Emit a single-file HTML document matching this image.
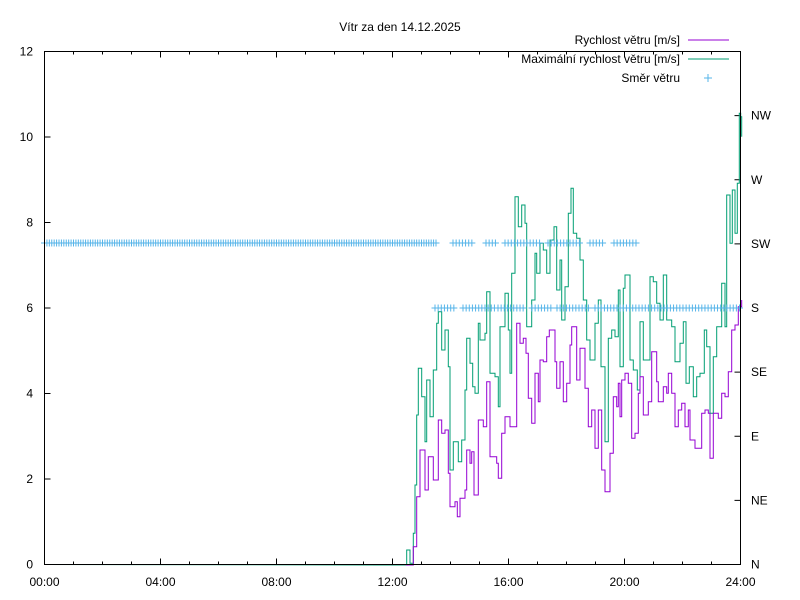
<!DOCTYPE html>
<html><head><meta charset="utf-8"><style>
html,body{margin:0;padding:0;background:#fff}
svg{display:block;font-family:"Liberation Sans",Arial,sans-serif;font-size:12px}
</style></head><body>
<svg id="s" width="800" height="600" xmlns="http://www.w3.org/2000/svg">
<rect width="800" height="600" fill="#fff"/>
<text x="400" y="31" text-anchor="middle">Vítr za den 14.12.2025</text>
<g id="ax" stroke="#000" stroke-width="1" fill="none"></g>
<g id="lbl"></g>
<polyline id="pg" fill="none" stroke="#009e73" stroke-width="1"/>
<polyline id="pp" fill="none" stroke="#9400d3" stroke-width="1"/>
<g id="dir" stroke="#56b4e9" stroke-width="1"></g>
<rect x="44.5" y="51.5" width="696" height="513" fill="none" stroke="#000"/>
<g text-anchor="end">
<text x="680" y="44">Rychlost větru [m/s]</text>
<text x="680" y="63">Maximální rychlost větru [m/s]</text>
<text x="680" y="82">Směr větru</text>
</g>
<line x1="688" y1="40" x2="729" y2="40" stroke="#9400d3"/>
<line x1="688" y1="59" x2="729" y2="59" stroke="#009e73"/>
<g stroke="#56b4e9"><line x1="704" y1="78" x2="712" y2="78"/><line x1="708" y1="74" x2="708" y2="82"/></g>
</svg>
<script>
var NS="http://www.w3.org/2000/svg";
function el(p,t,a,txt){var e=document.createElementNS(NS,t);for(var k in a)e.setAttribute(k,a[k]);if(txt!=null)e.textContent=txt;document.getElementById(p).appendChild(e);}
var L=44.5,R=740.5,T=51.5,B=564.5;
for(var i=0;i<=6;i++){var y=B-i*(B-T)/6;el("ax","line",{x1:L,y1:y,x2:L+6,y2:y});el("lbl","text",{x:33,y:y+4,"text-anchor":"end"},String(i*2));}
var d=["N","NE","E","SE","S","SW","W","NW"];
for(var i=0;i<8;i++){var y=B-i*(B-T)/8;el("ax","line",{x1:R,y1:y,x2:R-6,y2:y});el("lbl","text",{x:751,y:y+4},d[i]);}
for(var h=0;h<=24;h++){var x=L+h*(R-L)/24;var len=h%4==0?6:3;el("ax","line",{x1:x,y1:B,x2:x,y2:B-len});el("ax","line",{x1:x,y1:T,x2:x,y2:T+len});
if(h%4==0)el("lbl","text",{x:x,y:586,"text-anchor":"middle"},(h<10?"0":"")+h+":00");}
var P=[20,1155,40,1100,50,950,60,810,75,930,85,830,100,900,115,720,125,760,135,750,145,880,150,980,165,965,172,1010,180,955,195,930,200,810,210,850,215,815,222,945,235,720,250,740,260,605,270,830,290,850,295,895,305,760,315,710,330,740,350,430,360,490,370,475,378,520,385,655,395,730,405,580,415,665,420,540,430,545,440,470,448,450,465,545,470,625,480,545,490,665,500,610,510,495,515,440,530,600,540,505,555,625,565,740,575,690,585,805,595,690,605,870,615,935,630,820,640,650,650,680,655,610,660,710,665,600,675,580,685,610,695,775,705,760,715,640,720,590,730,705,745,665,755,515,770,605,775,665,790,620,800,640,805,580,815,640,825,740,835,690,845,670,855,740,865,690,870,780,885,805,895,805,905,700,915,690,925,700,930,835,940,700,955,715,965,640,975,650,985,575,995,450,1005,435,1015,380,1025,360];
var G=[0,1155,15,1155,20,1110,30,1150,40,1060,45,915,50,705,55,565,65,650,75,785,80,600,90,710,100,570,110,430,115,395,125,510,135,450,145,560,150,870,160,785,175,845,185,780,195,630,200,475,210,550,218,620,225,640,235,430,240,480,255,460,260,335,270,580,285,590,295,680,300,440,315,340,325,450,330,580,335,280,345,50,355,140,365,75,375,130,380,440,395,360,405,220,410,280,420,190,430,210,440,280,450,180,462,140,470,330,480,240,485,420,495,320,505,100,513,25,520,160,530,175,540,240,550,360,560,480,570,540,585,430,595,360,603,560,615,785,625,475,635,450,645,470,655,330,660,560,670,325,675,285,690,540,700,570,712,630,720,425,730,540,740,540,750,290,760,305,770,370,780,420,790,285,800,420,815,440,825,545,840,490,850,425,858,610,868,560,880,650,890,590,900,580,913,450,920,500,930,700,940,530,950,440,965,310,975,440,980,45,990,190,997,30,1005,160,1012,10,1018,-200,1022,-190,1025,-130];
function pts(a,pre){var s=pre,py=null;for(var i=0;i<a.length;i+=2){var x=(400+a[i]/3).toFixed(1),y=(180+a[i+1]/3).toFixed(1);if(py!==null)s+=x+","+py+" ";s+=x+","+y+" ";py=y;}return s;}
document.getElementById("pp").setAttribute("points",pts(P,"44.5,564.5 405,564.5 "));
document.getElementById("pg").setAttribute("points",pts(G,"44.5,564.5 "));
function plus(x,y){el("dir","line",{x1:x-3.5,y1:y,x2:x+3.5,y2:y});el("dir","line",{x1:x,y1:y-3.5,x2:x,y2:y+3.5});}
var st=696/288;
for(var x=L;x<=437;x+=st)plus(x,243);
var sw=[[452,458],[453,473],[486,498],[505,540],[548,582],[590,605],[614,637]];
var ss=[[435,455],[463,495],[498,525],[532,552],[557,590],[595,741]];
function fill(r,y){r.forEach(function(a){for(var x=a[0];x<=a[1];x+=st*1.3)plus(x,y);});}
fill(sw.slice(1),243);fill(ss,308);
</script>
</body></html>
